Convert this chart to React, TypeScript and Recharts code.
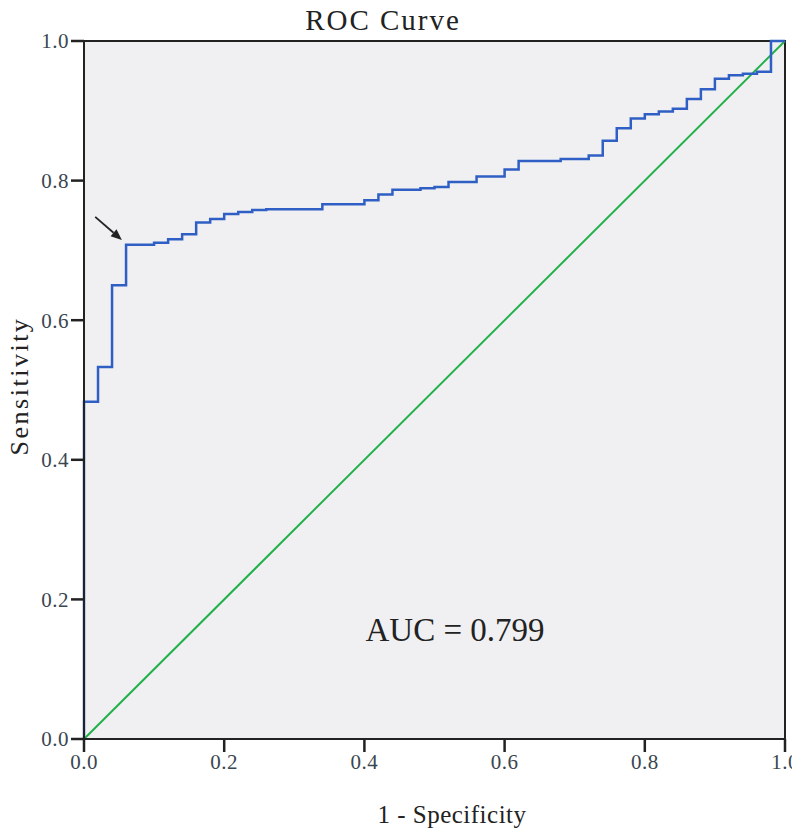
import React from "react";
import {
  LineChart,
  Line,
  XAxis,
  YAxis,
  ReferenceArea,
  ReferenceLine,
} from "recharts";

// ROC step points: 1 - specificity and sensitivity
const fprSteps = [
  0, 0, 0.02, 0.04, 0.06, 0.1, 0.12, 0.14, 0.16, 0.18, 0.2, 0.22, 0.24, 0.26,
  0.34, 0.4, 0.42, 0.44, 0.48, 0.5, 0.52, 0.56, 0.6, 0.62, 0.68, 0.72, 0.74,
  0.76, 0.78, 0.8, 0.82, 0.84, 0.86, 0.88, 0.9, 0.92, 0.94, 0.96, 0.98, 0.98, 1.0,
];
const tprSteps = [
  0, 0.483, 0.533, 0.65, 0.708, 0.711, 0.716, 0.723, 0.74, 0.745, 0.752, 0.755,
  0.758, 0.759, 0.766, 0.772, 0.78, 0.787, 0.789, 0.791, 0.798, 0.806, 0.816,
  0.828, 0.831, 0.836, 0.857, 0.875, 0.889, 0.895, 0.899, 0.903, 0.917, 0.931,
  0.946, 0.951, 0.953, 0.956, 0.962, 1.0, 1.0,
];
const refX = [0, 1];
const refY = [0, 1];
const ticks = [0, 0.2, 0.4, 0.6, 0.8, 1.0];

const rocData = fprSteps.map((x, i) => ({ x, y: tprSteps[i] }));
const diagData = refX.map((x, i) => ({ x, y: refY[i] }));

const FONT = "'Liberation Serif', 'DejaVu Serif', serif";
const INK = "#222";
const TICK = { fill: "#3a4650", fontSize: 21, fontFamily: FONT, letterSpacing: 0.5 };

const Arrow = (props: any) => {
  const { x1, y1, x2, y2 } = props;
  const ang = Math.atan2(y2 - y1, x2 - x1);
  const len = 11;
  const w = 4.5;
  const bx = x2 - len * Math.cos(ang);
  const by = y2 - len * Math.sin(ang);
  const px = -Math.sin(ang) * w;
  const py = Math.cos(ang) * w;
  return (
    <g>
      <line x1={x1} y1={y1} x2={bx} y2={by} stroke={INK} strokeWidth={1.8} />
      <polygon
        points={`${x2},${y2} ${bx + px},${by + py} ${bx - px},${by - py}`}
        fill={INK}
      />
    </g>
  );
};

export default function App() {
  return (
    <div style={{ position: "relative", width: 792, height: 825 }}>
      <LineChart
        width={792}
        height={825}
        margin={{ top: 33, right: 15, left: 16, bottom: 34 }}
      >
        <XAxis
          type="number"
          dataKey="x"
          domain={[0, 1]}
          ticks={ticks}
          tickFormatter={(v: number) => v.toFixed(1)}
          height={60}
          tickSize={13}
          axisLine={{ stroke: INK, strokeWidth: 2 }}
          tickLine={{ stroke: INK, strokeWidth: 2.5 }}
          tick={TICK}
          allowDuplicatedCategory={false}
        />
        <YAxis
          type="number"
          dataKey="y"
          domain={[0, 1]}
          ticks={ticks}
          tickFormatter={(v: number) => v.toFixed(1)}
          width={60}
          tickSize={13}
          axisLine={{ stroke: INK, strokeWidth: 2 }}
          tickLine={{ stroke: INK, strokeWidth: 2.5 }}
          tick={TICK}
        />
        <ReferenceArea
          x1={0}
          x2={1}
          y1={0}
          y2={1}
          fill="#f0f0f2"
          fillOpacity={1}
          stroke={INK}
          strokeWidth={2}
        />
        <Line
          data={diagData}
          dataKey="y"
          type="linear"
          stroke="#22b04a"
          strokeWidth={2}
          dot={false}
          isAnimationActive={false}
        />
        <Line
          data={rocData}
          dataKey="y"
          type="stepAfter"
          stroke="#2f5fc4"
          strokeWidth={2.5}
          dot={false}
          isAnimationActive={false}
        />
        <ReferenceLine
          segment={[
            { x: 0.016, y: 0.748 },
            { x: 0.054, y: 0.715 },
          ]}
          shape={Arrow}
        />
      </LineChart>
      {/* overlay for title and labels, covering the whole page */}
      <svg
        width={800}
        height={833}
        style={{ position: "absolute", left: -8, top: -8, pointerEvents: "none" }}
      >
        <text x={383} y={30} textAnchor="middle" fontSize={29} letterSpacing={2} fontFamily={FONT} fill={INK}>
          ROC Curve
        </text>
        <text x={455} y={641} textAnchor="middle" fontSize={33} fontFamily={FONT} fill={INK}>
          AUC = 0.799
        </text>
        <text x={452} y={823} textAnchor="middle" fontSize={25} letterSpacing={0.5} fontFamily={FONT} fill={INK}>
          1 - Specificity
        </text>
        <text
          x={28}
          y={386}
          textAnchor="middle"
          fontSize={26}
          letterSpacing={2.5}
          fontFamily={FONT}
          fill={INK}
          transform="rotate(-90 28 386)"
        >
          Sensitivity
        </text>
      </svg>
    </div>
  );
}
